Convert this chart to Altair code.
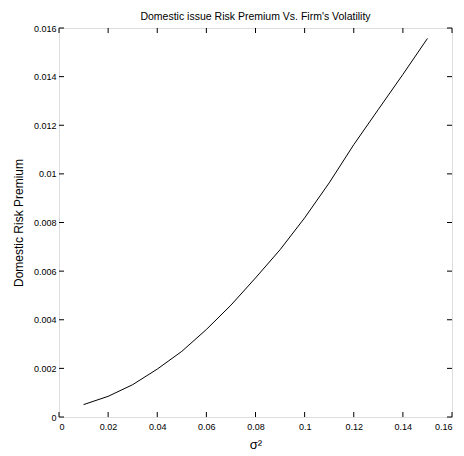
import altair as alt
import pandas as pd

# data
sigma2 = [0.01, 0.02, 0.03, 0.04, 0.05, 0.06, 0.07, 0.08, 0.09, 0.10, 0.11, 0.12, 0.13, 0.14, 0.15]
premium = [0.00051, 0.00085, 0.00133, 0.00197, 0.0027, 0.0036, 0.0046, 0.00572, 0.00688,
           0.00819, 0.00963, 0.0112, 0.01265, 0.01409, 0.01557]
x_ticks = [0, 0.02, 0.04, 0.06, 0.08, 0.1, 0.12, 0.14, 0.16]
y_ticks = [0, 0.002, 0.004, 0.006, 0.008, 0.01, 0.012, 0.014, 0.016]

W, H = 393, 389
TL = 5
FONT = "Liberation Sans"

df = pd.DataFrame({"x": sigma2, "y": premium})
dfx = pd.DataFrame({"x": x_ticks})
dfy = pd.DataFrame({"y": y_ticks})

xscale = alt.Scale(domain=[0, 0.16], nice=False, zero=False)
yscale = alt.Scale(domain=[0, 0.016], nice=False, zero=False)

xaxis = alt.Axis(values=x_ticks, format="~g", ticks=False, domain=False, grid=False,
                 labelPadding=5, labelFontSize=9, labelColor="black", labelFont=FONT,
                 title="σ²", titleFontSize=13, titleFontWeight="normal", titleFont=FONT,
                 titleColor="black", titleX=W / 2, titleY=31,
                 titleBaseline="alphabetic", titleAlign="center")
yaxis = alt.Axis(values=y_ticks, format="~g", ticks=False, domain=False, grid=False,
                 labelPadding=3, labelFontSize=9, labelColor="black", labelFont=FONT,
                 title="Domestic Risk Premium", titleFontSize=12, titleFontWeight="normal",
                 titleFont=FONT, titleColor="black", titleAngle=-90, titleX=-41,
                 titleY=H / 2, titleBaseline="middle", titleAlign="center")

line = alt.Chart(df).mark_line(color="black", strokeWidth=1).encode(
    x=alt.X("x:Q", scale=xscale, axis=xaxis),
    y=alt.Y("y:Q", scale=yscale, axis=yaxis),
)

tick_bottom = alt.Chart(dfx).mark_rule(color="black", strokeWidth=1).encode(
    x=alt.X("x:Q", scale=xscale, axis=xaxis), y=alt.value(H - TL), y2=alt.value(H))
tick_top = alt.Chart(dfx).mark_rule(color="black", strokeWidth=1).encode(
    x=alt.X("x:Q", scale=xscale, axis=xaxis), y=alt.value(0), y2=alt.value(TL))
tick_left = alt.Chart(dfy).mark_rule(color="black", strokeWidth=1).encode(
    y=alt.Y("y:Q", scale=yscale, axis=yaxis), x=alt.value(0), x2=alt.value(TL))
tick_right = alt.Chart(dfy).mark_rule(color="black", strokeWidth=1).encode(
    y=alt.Y("y:Q", scale=yscale, axis=yaxis), x=alt.value(W - TL), x2=alt.value(W))

chart = alt.layer(line, tick_bottom, tick_top, tick_left, tick_right).properties(
    width=W, height=H,
    title=alt.TitleParams("Domestic issue Risk Premium Vs. Firm's Volatility", fontSize=10.5,
                          fontWeight="normal", font=FONT, color="black", anchor="middle",
                          frame="group", offset=2),
    autosize=alt.AutoSizeParams(type="none"),
    padding={"left": 51, "top": 20, "right": 4, "bottom": 38},
).configure_view(stroke="black", strokeWidth=1).configure(background="white")

chart.save("out.html", embed_options={"renderer": "svg", "actions": False})
